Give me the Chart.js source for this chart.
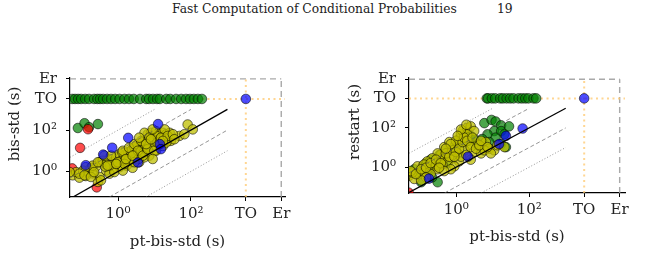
<!DOCTYPE html>
<html>
<head>
<meta charset="utf-8">
<script src="https://cdn.jsdelivr.net/npm/chart.js@4.4.1/dist/chart.umd.min.js"></script>
<style>
  body { margin: 0; width: 668px; height: 257px; background: #fff; position: relative; overflow: hidden;
         font-family: "DejaVu Serif", serif; color: #222; }
  #header { position: absolute; left: 172px; top: 0; font-size: 12px; line-height: 19px; white-space: nowrap; }
  #pageno { position: absolute; left: 497px; top: 0; font-size: 12.3px; line-height: 19px; }
  canvas { position: absolute; top: 60px; }
  #left { left: 0; }
  #right { left: 330px; }
</style>
</head>
<body>
<div id="header">Fast Computation of Conditional Probabilities</div>
<div id="pageno">19</div>
<canvas id="left" width="300" height="197"></canvas>
<canvas id="right" width="338" height="197"></canvas>
<script>
// timeout / error placeholders on the log axes (seconds)
const TO = 3200;
const ER = 30000;
const axisTicks = [1, 100, TO, ER];
const tickLabels = ['10⁰', '10²', 'TO', 'Er'];
const diagFactors = [1, 10, 0.1, 100, 0.01];
const DIAG_END = 1000;

// --- left plot: bis-std vs pt-bis-std ---
const leftGreenRowX = [0.055, 0.066, 0.08, 0.097, 0.125, 0.16, 0.22, 0.27, 0.32, 0.39,
  0.5, 0.64, 0.83, 1.1, 1.5, 2.0, 2.7, 4.0, 5.9, 7.1,
  9.1, 11.7, 14, 21, 27, 39, 54, 73, 94, 120, 155, 200];
const leftGreenX = [0.079, 0.12, 0.16, 0.28];
const leftGreenY = [126, 214, 138, 195];
const leftRedX = [0.091, 0.055, 0.26, 0.15];
const leftRedY = [13.8, 1.4, 0.17, 110];
const leftBlueX = [12.5, 1.9, 0.69, 0.39, 0.13, 14, 15, 3.5, TO];
const leftBlueY = [195, 42, 14, 6.5, 2.0, 21, 12, 2.7, TO];
const leftYellowX = [0.057, 0.087, 0.071, 0.11, 0.15, 0.18, 0.25, 0.31, 0.38, 0.47,
  0.58, 0.71, 0.89, 1.1, 1.2, 1.5, 1.9, 2.0, 2.5, 3.1,
  3.8, 4.8, 5.9, 6.5, 8.0, 9.9, 11, 13.5, 17, 21,
  26, 8.0, 5.9, 4.3, 3.1, 2.3, 1.7, 1.1, 0.71, 0.47,
  0.31, 0.28, 0.34, 0.58, 0.79, 1.35, 2.5, 3.8, 7.2, 11,
  17, 23, 28, 48, 66, 81, 112, 21, 13.5, 8.9,
  5.3, 1.9, 1.3, 2.2, 2.8, 3.3, 4.2, 4.5, 5.5, 6.8,
  7.5, 9.5, 12, 15, 0.6, 0.9, 1.6, 2.6, 3.6, 0.45,
  0.2, 0.13, 5, 6.2, 10, 14, 18, 0.13, 0.20, 0.28,
  0.42, 0.52, 0.64, 0.98, 1.35, 1.5, 2.0, 2.8, 2.8, 3.5,
  4.3, 4.8, 5.3, 6.5, 7.2, 8.9, 9.9, 12, 15, 19,
  23, 32, 35, 8.9, 0.087, 0.12, 0.18, 0.047, 0.22, 1.65,
  0.89, 2.5, 5.9, 3.8, 8.0, 17];
const leftYellowY = [0.65, 0.5, 0.93, 1.1, 0.93, 1.5, 1.7, 2.8, 3.3, 2.3,
  4.0, 2.8, 4.8, 6.9, 3.3, 5.8, 8.3, 4.0, 12, 6.9,
  14, 21, 36, 63, 74, 43, 89, 63, 74, 63,
  74, 25, 12, 6.9, 4.8, 2.8, 1.9, 1.6, 1.35, 1.1,
  0.54, 0.31, 0.37, 0.78, 0.93, 1.1, 1.5, 2.8, 5.8, 10,
  17, 30, 30, 52, 63, 186, 108, 25, 30, 17,
  4.8, 3.3, 8.5, 9.5, 15, 20, 9, 28, 18, 22,
  45, 33, 50, 40, 2.0, 2.4, 3.8, 6.2, 4.0, 1.7,
  0.8, 0.6, 8, 11, 19, 22, 45, 1.6, 1.9, 2.8,
  5.8, 1.9, 5.8, 2.8, 10, 2.3, 14, 21, 2.8, 10,
  30, 5.8, 74, 12, 43, 108, 10, 25, 43, 108,
  52, 63, 36, 4.0, 0.78, 0.65, 0.54, 0.93, 0.93, 4.0,
  2.3, 5.8, 21, 43, 36, 30];

// --- right plot: restart vs pt-bis-std ---
const rightGreenRowX = [6.9, 7.5, 9.5, 11.7, 16, 19, 24, 30, 37, 51, 63, 78, 95, 131, 155];
const rightGreenX = [5.9, 9.3, 12, 17, 11, 17, 7.2, 5.2, 3.1, 21,
  28, 12, 8.0, 3.8, 2.3, 17, 23, 0.58, 0.31, 0.18,
  0.12, 0.087, 0.071, 0.31, 0.22, 0.11, 2.5, 1.7, 0.1, 0.25,
  0.4, 0.6, 0.9, 1.2, 0.15, 0.2, 0.35, 0.5, 0.18];
const rightGreenY = [175, 255, 212, 135, 69, 69, 47, 27, 27, 47,
  120, 32, 19, 13, 22, 15, 10.5, 1.6, 1.1, 0.63,
  1.1, 0.44, 0.78, 0.17, 0.30, 0.17, 39, 47, 0.5, 1.9,
  3, 6, 12, 18, 1.6, 2.4, 4.2, 6.9, 0.93];
const rightRedX = [0.05];
const rightRedY = [0.05];
const rightBlueX = [66, 23, 15, 2.1, 0.18, TO];
const rightBlueY = [93, 39, 15, 3.4, 0.26, TO];
const rightYellowX = [0.051, 0.071, 0.098, 0.13, 0.16, 0.22, 0.28, 0.34, 0.38, 0.47,
  0.58, 0.71, 0.89, 1.1, 1.2, 1.35, 1.5, 2.0, 2.5, 1.9,
  2.3, 1.7, 1.1, 0.79, 0.58, 0.42, 0.31, 0.20, 0.15, 0.11,
  3.8, 5.2, 6.5, 8.0, 11, 13.5, 21, 3.1, 4.8, 1.2,
  0.89, 2.5, 0.47, 0.65, 0.98, 3.1, 2.0, 0.31, 0.22, 0.16,
  0.087, 0.063, 0.13, 1.35, 1.9, 5.9, 8.9, 0.71, 0.47, 0.057,
  0.079, 0.11, 0.15, 0.20, 0.28, 0.38, 0.52, 0.65, 0.79, 0.98,
  1.2, 1.5, 1.65, 2.0, 2.5, 2.8, 3.5, 4.3, 7.2, 0.89,
  0.34, 1.35, 1.1, 0.71, 0.52, 1.9, 4.8];
const rightYellowY = [0.36, 0.25, 0.44, 0.53, 0.78, 1.1, 1.35, 2.4, 4.2, 2.8,
  5.0, 7.2, 10.5, 15, 27, 47, 69, 100, 120, 32,
  13, 7.2, 5.0, 2.8, 1.95, 1.35, 0.78, 0.44, 0.30, 0.21,
  15, 10.5, 19, 8.7, 7.2, 13, 10.5, 6.0, 5.0, 1.95,
  1.1, 2.4, 10.5, 19, 22, 69, 47, 5.0, 2.8, 1.95,
  1.1, 0.53, 1.35, 3.4, 4.2, 7.2, 5.0, 0.78, 0.63, 0.63,
  0.44, 0.78, 0.93, 1.6, 2.4, 1.6, 5.0, 3.4, 7.2, 6.0,
  8.7, 19, 32, 22, 10.5, 32, 8.7, 13, 10.5, 3.4,
  0.93, 83, 39, 15, 8.7, 145, 22];

const FONT = 'DejaVu Serif';
const INK = '#222';
const EDGE = 'rgba(0,0,0,0.7)';
const COLORS = {
  green: 'rgba(0,128,0,0.7)',
  yellow: 'rgba(191,191,0,0.75)',
  blue: 'rgba(0,0,255,0.7)',
  red: 'rgba(255,0,0,0.7)'
};

// stretch the running head to the width it has on the page
const hdr = document.getElementById('header');
hdr.style.fontSize = (12 * 285 / hdr.getBoundingClientRect().width).toFixed(2) + 'px';

const pts = (xs, ys) => xs.map((x, i) => ({ x, y: ys[i] }));
const row = (xs, y) => xs.map(x => ({ x, y }));

// rotated y-axis label, matplotlib places it a bit above the axis centre here
const yTitle = {
  id: 'yTitle',
  afterDraw(chart, args, opts) {
    const ctx = chart.ctx;
    ctx.save();
    ctx.translate(opts.x, opts.y);
    ctx.rotate(-Math.PI / 2);
    ctx.font = `15px "${FONT}"`;
    ctx.fillStyle = INK;
    ctx.textAlign = 'center';
    ctx.textBaseline = 'middle';
    ctx.fillText(opts.text, 0, 0);
    ctx.restore();
  }
};

function scatterSet(data, color, order) {
  return { data, backgroundColor: color, borderColor: EDGE, borderWidth: 0.8,
           pointRadius: 4.8, pointHoverRadius: 4.8, order, clip: 0 };
}

function lineSet(data, color, width, dash, order) {
  return { data, showLine: true, pointRadius: 0, borderColor: color, borderWidth: width,
           borderDash: dash, fill: false, order, clip: 0 };
}

function diagStyle(k) {
  if (k === 1) return ['#000', 1.3, []];
  if (k === 10 || k === 0.1) return ['rgba(90,90,90,0.8)', 0.8, [4, 2.5]];
  return ['rgba(90,90,90,0.8)', 0.8, [1, 2]];
}

function makePlot(id, g, series) {
  const datasets = [];
  diagFactors.forEach(k => {
    const x0 = Math.max(g.xMin, g.yMin / k);
    const x1 = Math.min(DIAG_END, DIAG_END / k);
    const [c, w, d] = diagStyle(k);
    datasets.push(lineSet([{ x: x0, y: k * x0 }, { x: x1, y: k * x1 }], c, w, d, 0));
  });
  datasets.push(scatterSet(pts(series.blueX, series.blueY), COLORS.blue, 1));
  datasets.push(scatterSet(pts(series.yellowX, series.yellowY), COLORS.yellow, 2));
  datasets.push(scatterSet(pts(series.redX, series.redY), COLORS.red, 3));
  datasets.push(scatterSet(pts(series.greenX, series.greenY), COLORS.green, 4));
  datasets.push(scatterSet(row(series.greenRowX, TO), COLORS.green, 4));
  // timeout (orange dotted) and error (grey dashed) guides
  const orange = 'rgba(255,200,110,0.75)';
  datasets.push(lineSet([{ x: g.xMin, y: TO }, { x: g.xMax, y: TO }], orange, 2, [2, 3.5], 10));
  datasets.push(lineSet([{ x: TO, y: g.yMin }, { x: TO, y: g.yMax }], orange, 2, [2, 3.5], 10));
  datasets.push(lineSet([{ x: g.xMin, y: ER }, { x: ER, y: ER }], 'rgba(160,160,160,0.9)', 1.4, [6, 4], 10));
  datasets.push(lineSet([{ x: ER, y: g.yMin }, { x: ER, y: ER }], 'rgba(160,160,160,0.9)', 1.4, [6, 4], 10));

  const setTicks = scale => { scale.ticks = axisTicks.map(v => ({ value: v })); };
  const tickFont = { family: FONT, size: 15 };

  return new Chart(document.getElementById(id), {
    type: 'scatter',
    data: { datasets },
    plugins: [yTitle],
    options: {
      responsive: false,
      animation: false,
      devicePixelRatio: 1,
      layout: { padding: { top: g.padTop, right: g.padRight, left: 0, bottom: 0 } },
      plugins: {
        legend: { display: false },
        tooltip: { enabled: false },
        yTitle: { text: g.yLabel, x: g.yLabelX, y: g.yLabelY }
      },
      scales: {
        x: {
          type: 'logarithmic', min: g.xMin, max: g.xMax,
          afterBuildTicks: setTicks,
          afterFit: s => { s.height = g.xAxisH; },
          ticks: { callback: (v, i) => tickLabels[i], autoSkip: false, maxRotation: 0,
                   padding: 4, color: INK, font: tickFont },
          grid: { drawOnChartArea: false, tickLength: 4, tickColor: '#000', tickWidth: 1 },
          border: { color: '#000', width: 1.2 },
          title: { display: true, text: 'pt-bis-std (s)', color: INK,
                   font: { family: FONT, size: 15 }, padding: { top: 0, bottom: g.xTitlePad } }
        },
        y: {
          type: 'logarithmic', min: g.yMin, max: g.yMax,
          afterBuildTicks: setTicks,
          afterFit: s => { s.width = g.yAxisW; },
          ticks: { callback: (v, i) => tickLabels[i], autoSkip: false,
                   padding: 9, color: INK, font: tickFont },
          grid: { drawOnChartArea: false, tickLength: 4, tickColor: '#000', tickWidth: 1 },
          border: { color: '#000', width: 1.2 }
        }
      }
    }
  });
}

makePlot('left', {
  xMin: 0.048, xMax: 38000, yMin: 0.058, yMax: 33000,
  padTop: 17, padRight: 15, yAxisW: 70, xAxisH: 60, xTitlePad: 6,
  yLabel: 'bis-std (s)', yLabelX: 15, yLabelY: 64
}, {
  greenRowX: leftGreenRowX, greenX: leftGreenX, greenY: leftGreenY,
  redX: leftRedX, redY: leftRedY, blueX: leftBlueX, blueY: leftBlueY,
  yellowX: leftYellowX, yellowY: leftYellowY
});

makePlot('right', {
  xMin: 0.051, xMax: 42000, yMin: 0.048, yMax: 35000,
  padTop: 13, padRight: 43, yAxisW: 79, xAxisH: 64, xTitlePad: 11,
  yLabel: 'restart (s)', yLabelX: 25, yLabelY: 62
}, {
  greenRowX: rightGreenRowX, greenX: rightGreenX, greenY: rightGreenY,
  redX: rightRedX, redY: rightRedY, blueX: rightBlueX, blueY: rightBlueY,
  yellowX: rightYellowX, yellowY: rightYellowY
});
</script>
</body>
</html>
